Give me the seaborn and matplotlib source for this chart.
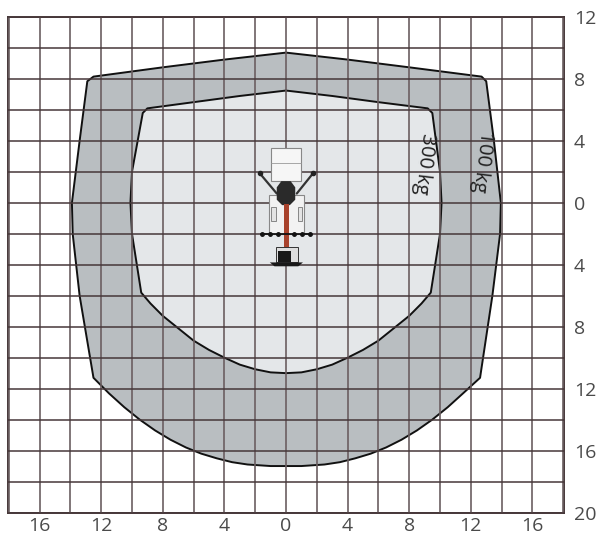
import matplotlib
matplotlib.use("Agg")
import matplotlib.pyplot as plt
import seaborn as sns
import pandas as pd

outer_x = [0, -4, -8, -12.5, -12.9, -13.4, -13.9, -13.85, -13.4, -12.5, -11.5, -10.5, -9.5, -8.5, -7.5, -6.5,
           -5.5, -4.5, -3.5, -2.5, -1, 0,
           1, 2.5, 3.5, 4.5, 5.5, 6.5, 7.5, 8.5, 9.5, 10.5, 11.5, 12.6, 13.4, 13.9, 13.95, 13.5, 13, 12.7, 8, 4, 0]
outer_y = [9.7, 9.25, 8.75, 8.15, 7.85, 4, 0, -2, -6, -11.3, -12.3, -13.2, -14, -14.7, -15.3, -15.8,
           -16.2, -16.5, -16.75, -16.9, -17, -17,
           -17, -16.9, -16.75, -16.5, -16.2, -15.8, -15.3, -14.7, -14, -13.2, -12.3, -11.3, -6, -2, 0, 4, 7.85, 8.15, 8.75, 9.25, 9.7]
inner_x = [0, -3, -6, -9.0, -9.3, -10, -10.1, -10, -9.4, -8.8, -8, -7, -6, -5, -4, -3, -2, -1, 0,
           1, 2, 3, 4, 5, 6, 7, 8, 8.8, 9.4, 10, 10.1, 10, 9.5, 9.2, 6, 3, 0]
inner_y = [7.25, 6.9, 6.5, 6.1, 5.8, 2, 0, -2, -5.8, -6.5, -7.3, -8.1, -8.9, -9.5, -10, -10.45, -10.75, -10.95, -11,
           -10.95, -10.75, -10.45, -10, -9.5, -8.9, -8.1, -7.3, -6.5, -5.8, -2, 0, 2, 5.8, 6.1, 6.5, 6.9, 7.25]
x_labels = [16, 12, 8, 4, 0, 4, 8, 12, 16]
x_label_pos = [-16, -12, -8, -4, 0, 4, 8, 12, 16]
y_labels = [12, 8, 4, 0, 4, 8, 12, 16, 20]
y_label_pos = [12, 8, 4, 0, -4, -8, -12, -16, -20]
load_labels = ["300 kg", "100 kg"]
load_x = [8.95, 12.75]
load_y = [2.5, 2.65]

sns.set_style("white")
plt.rcParams["font.family"] = ["Open Sans", "DejaVu Sans"]
GRID_H = "#463739"
GRID_V = "#6b5f61"
fig = plt.figure(figsize=(5.98, 5.35), dpi=100)
ax = fig.add_axes([8 / 598, 1 - 512.5 / 535, 556 / 598, 495.5 / 535])
ax.set_xlim(-18.05, 18.05)
ax.set_ylim(-20, 12)

ax.fill(outer_x, outer_y, color="#b9bec1", lw=0, zorder=1)
ax.fill(inner_x, inner_y, color="#e4e7e9", lw=0, zorder=1.1)
for name, xs, ys in (("outer", outer_x, outer_y), ("inner", inner_x, inner_y)):
    df = pd.DataFrame({"x": xs, "y": ys})
    sns.lineplot(data=df, x="x", y="y", sort=False, estimator=None, color="#111111",
                 lw=1.4, ax=ax, zorder=2)

ax.set_xticks(range(-18, 19, 2))
ax.set_yticks(range(-20, 13, 2))
ax.set_xticklabels([str(x_labels[x_label_pos.index(t)]) if t in x_label_pos else "" for t in range(-18, 19, 2)])
ax.set_yticklabels([str(y_labels[y_label_pos.index(t)]) if t in y_label_pos else "" for t in range(-20, 13, 2)])
ax.yaxis.tick_right()
ax.tick_params(length=0, labelsize=14, colors="#4a4a4a")
ax.tick_params(axis="y", pad=7)
ax.tick_params(axis="x", pad=3.5)
ax.set_xlabel("")
ax.set_ylabel("")
ax.grid(True, axis="x", color=GRID_V, lw=1.2, zorder=3)
ax.grid(True, axis="y", color=GRID_H, lw=1.1, zorder=3)
ax.set_axisbelow(False)
for s in ax.spines.values():
    s.set_color(GRID_H)
    s.set_linewidth(1.4)
    s.set_visible(True)

# machine sketch
ax.fill([-0.95, 1.0, 1.0, -0.95], [3.55, 3.55, 1.4, 1.4], fc="#f6f6f6", ec="#888888", lw=0.8, zorder=4)
ax.plot([-0.95, 1.0], [2.55, 2.55], color="#999999", lw=0.6, zorder=4.1)
ax.fill([-1.1, 1.15, 1.15, -1.1], [0.5, 0.5, -2, -2], fc="#f2f2f2", ec="#888888", lw=0.8, zorder=4)
ax.fill([-0.95, -0.65, -0.65, -0.95], [-0.3, -0.3, -1.2, -1.2], fc="#e4e4e4", ec="#777777", lw=0.6, zorder=4.1)
ax.fill([0.75, 1.05, 1.05, 0.75], [-0.3, -0.3, -1.2, -1.2], fc="#e4e4e4", ec="#777777", lw=0.6, zorder=4.1)
ax.plot([-1.7, -0.6], [1.9, 0.6], color="#333333", lw=1.6, zorder=5)
ax.plot([1.75, 0.7], [1.9, 0.6], color="#333333", lw=1.6, zorder=5)
ax.plot([-1.7, 1.75], [1.9, 1.9], ls="none", marker="o", ms=3, color="#222222", zorder=5)
ax.fill([-0.3, 0.3, 0.6, 0.6, 0.25, -0.25, -0.6, -0.6], [1.4, 1.4, 1.0, 0.2, -0.15, -0.15, 0.2, 1.0],
        color="#2a2a2a", lw=0, zorder=5)
ax.fill([-0.15, 0.17, 0.17, -0.15], [-0.1, -0.1, -2.9, -2.9], color="#a8422c", lw=0, zorder=5)
ax.plot([-1.6, 1.6], [-2, -2], color="#111111", lw=1.3, zorder=5)
ax.plot([-1.55, -1.05, -0.5, 0.5, 1.05, 1.55], [-2] * 6, ls="none", marker="o", ms=2.5, color="#111111", zorder=5)
ax.fill([-0.65, 0.8, 0.8, -0.65], [-2.85, -2.85, -3.85, -3.85], fc="#dddddd", ec="#333333", lw=0.7, zorder=5)
ax.fill([-0.55, 0.35, 0.35, -0.55], [-3.1, -3.1, -3.8, -3.8], color="#181818", lw=0, zorder=5.1)
ax.fill([-1.05, 1.1, 0.8, -0.75], [-3.85, -3.85, -4.1, -4.1], color="#181818", lw=0, zorder=5.1)

for lab, lx, ly in zip(load_labels, load_x, load_y):
    ax.text(lx, ly, lab, rotation=-97, rotation_mode="anchor", ha="center", va="center",
            fontsize=14.5, color="#222222", zorder=6)
fig.savefig("out.png", dpi=100)
